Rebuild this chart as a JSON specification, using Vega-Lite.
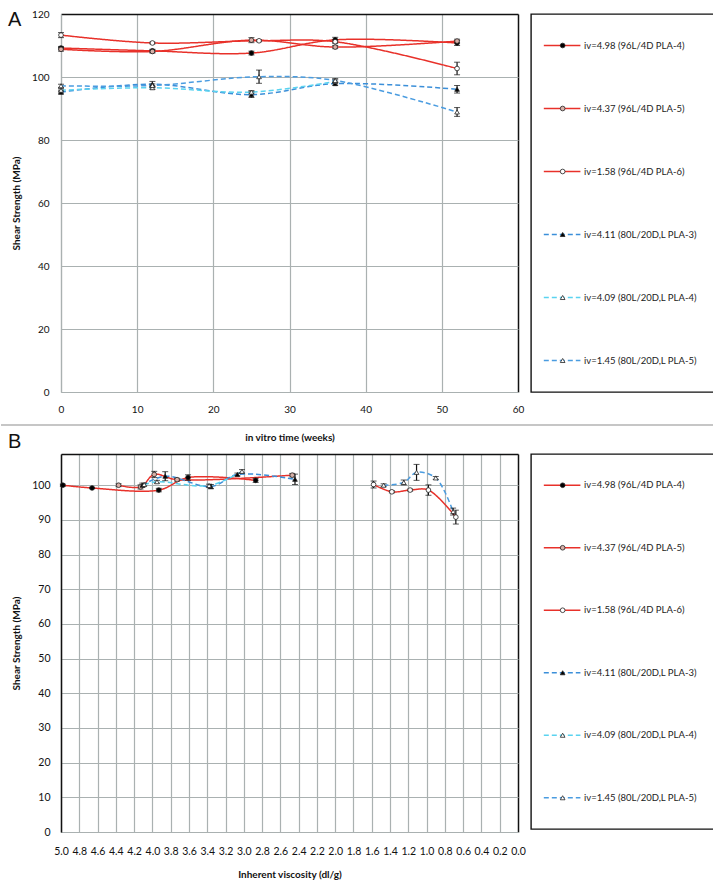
{
  "$schema": "https://vega.github.io/schema/vega-lite/v6.json",
  "autosize": {"type": "pad"},
  "padding": {"left": 0, "top": 9, "right": 0, "bottom": 0},
  "background": "white",
  "datasets": {
    "a": [
      {"k": "s1", "t": 0, "v": 109.2, "e": 0.5},
      {"k": "s1", "t": 12, "v": 108.3, "e": 0.5},
      {"k": "s1", "t": 25, "v": 107.6, "e": 0.6},
      {"k": "s1", "t": 36, "v": 111.8, "e": 0.8},
      {"k": "s1", "t": 52, "v": 110.8, "e": 0.8},
      {"k": "s2", "t": 0, "v": 108.8, "e": 0.6},
      {"k": "s2", "t": 12, "v": 108.1, "e": 0.5},
      {"k": "s2", "t": 25, "v": 111.7, "e": 0.8},
      {"k": "s2", "t": 36, "v": 109.5, "e": 0.5},
      {"k": "s2", "t": 52, "v": 111.4, "e": 0.6},
      {"k": "s3", "t": 0, "v": 113.3, "e": 0.8},
      {"k": "s3", "t": 12, "v": 110.8, "e": 0.3},
      {"k": "s3", "t": 26, "v": 111.5, "e": 0.3},
      {"k": "s3", "t": 36, "v": 111.2, "e": 0.6},
      {"k": "s3", "t": 52, "v": 102.7, "e": 2.0},
      {"k": "s4", "t": 0, "v": 95.2, "e": 0.6},
      {"k": "s4", "t": 12, "v": 97.7, "e": 0.9},
      {"k": "s4", "t": 25, "v": 94.4, "e": 0.9},
      {"k": "s4", "t": 36, "v": 97.9, "e": 0.5},
      {"k": "s4", "t": 52, "v": 96.1, "e": 1.2},
      {"k": "s5", "t": 0, "v": 95.8, "e": 0.5},
      {"k": "s5", "t": 12, "v": 96.6, "e": 0.5},
      {"k": "s5", "t": 25, "v": 95.2, "e": 0.5},
      {"k": "s5", "t": 36, "v": 98.6, "e": 0.5},
      {"k": "s6", "t": 0, "v": 97.2, "e": 0.5},
      {"k": "s6", "t": 12, "v": 97.3, "e": 0.5},
      {"k": "s6", "t": 26, "v": 100.1, "e": 2.1},
      {"k": "s6", "t": 36, "v": 98.9, "e": 0.6},
      {"k": "s6", "t": 52, "v": 88.9, "e": 1.4}
    ],
    "b": [
      {"k": "s1", "iv": 4.98, "v": 100.0, "e": 0.3},
      {"k": "s1", "iv": 4.66, "v": 99.2, "e": 0.2},
      {"k": "s1", "iv": 3.93, "v": 98.6, "e": 0.5},
      {"k": "s1", "iv": 3.61, "v": 102.2, "e": 0.8},
      {"k": "s1", "iv": 2.87, "v": 101.4, "e": 0.6},
      {"k": "s2", "iv": 4.37, "v": 100.0, "e": 0.4},
      {"k": "s2", "iv": 4.13, "v": 99.5, "e": 0.6},
      {"k": "s2", "iv": 3.98, "v": 103.1, "e": 0.9},
      {"k": "s2", "iv": 3.73, "v": 101.6, "e": 0.4},
      {"k": "s2", "iv": 2.47, "v": 102.9, "e": 0.5},
      {"k": "s3", "iv": 1.58, "v": 100.2, "e": 1.0},
      {"k": "s3", "iv": 1.38, "v": 98.1, "e": 0.3},
      {"k": "s3", "iv": 1.18, "v": 98.6, "e": 0.3},
      {"k": "s3", "iv": 0.98, "v": 98.6, "e": 1.5},
      {"k": "s3", "iv": 0.68, "v": 90.8, "e": 2.0},
      {"k": "s4", "iv": 4.11, "v": 100.0, "e": 0.6},
      {"k": "s4", "iv": 3.86, "v": 102.6, "e": 1.3},
      {"k": "s4", "iv": 3.36, "v": 99.6, "e": 0.6},
      {"k": "s4", "iv": 3.07, "v": 103.1, "e": 0.4},
      {"k": "s4", "iv": 2.44, "v": 101.7, "e": 1.5},
      {"k": "s5", "iv": 4.09, "v": 100.2, "e": 0.4},
      {"k": "s5", "iv": 3.95, "v": 101.0, "e": 0.4},
      {"k": "s5", "iv": 3.38, "v": 99.9, "e": 0.4},
      {"k": "s5", "iv": 3.02, "v": 104.0, "e": 0.5},
      {"k": "s6", "iv": 1.47, "v": 100.0, "e": 0.4},
      {"k": "s6", "iv": 1.25, "v": 100.8, "e": 0.7},
      {"k": "s6", "iv": 1.11, "v": 103.7, "e": 2.3},
      {"k": "s6", "iv": 0.9, "v": 102.1, "e": 0.4},
      {"k": "s6", "iv": 0.71, "v": 92.4, "e": 1.0}
    ],
    "leg": [
      {"k": "s1", "s": "iv=4.98 (96L/4D PLA-4)"},
      {"k": "s2", "s": "iv=4.37 (96L/4D PLA-5)"},
      {"k": "s3", "s": "iv=1.58 (96L/4D PLA-6)"},
      {"k": "s4", "s": "iv=4.11 (80L/20D,L PLA-3)"},
      {"k": "s5", "s": "iv=4.09 (80L/20D,L PLA-4)"},
      {"k": "s6", "s": "iv=1.45 (80L/20D,L PLA-5)"}
    ]
  },
  "concat": [
    {
      "width": 457,
      "height": 378,
      "title": {"text": "A", "anchor": "start", "frame": "group", "orient": "top", "offset": -21, "dx": -53, "font": "Liberation Sans", "fontSize": 20, "fontWeight": "normal", "color": "#111"},
      "layer": [
        {
          "data": {"name": "a"},
          "encoding": {
            "x": {"field": "t", "type": "quantitative", "scale": {"domain": [0, 60], "nice": false},
              "axis": {"title": "in vitro time (weeks)", "values": [0, 10, 20, 30, 40, 50, 60], "labelFlush": false, "labelPadding": 12, "titlePadding": 18,
                "gridColor": {"condition": {"test": "datum.value === 60", "value": "#111"}, "value": "#aab1b1"},
                "gridWidth": {"condition": {"test": "datum.value === 60", "value": 1.5}, "value": 1.2}}},
            "y": {"field": "v", "type": "quantitative", "scale": {"domain": [0, 120], "nice": false},
              "axis": {"title": "Shear Strength (MPa)", "values": [0, 20, 40, 60, 80, 100, 120], "labelPadding": 12, "titlePadding": 10,
                "gridColor": {"condition": {"test": "datum.value === 120", "value": "#111"}, "value": "#aab1b1"},
                "gridWidth": {"condition": {"test": "datum.value === 120", "value": 1.5}, "value": 1.2}}}
          },
          "layer": [
            {"mark": {"type": "line", "interpolate": "catmull-rom", "strokeWidth": 1.5},
              "encoding": {
                "color": {"field": "k", "type": "nominal", "legend": null, "scale": {"domain": ["s1", "s2", "s3", "s4", "s5", "s6"], "range": ["#e8312a", "#e8312a", "#e8312a", "#3b8fd9", "#5ad3f0", "#4a9ce0"]}},
                "strokeDash": {"field": "k", "type": "nominal", "legend": null, "scale": {"domain": ["s1", "s2", "s3", "s4", "s5", "s6"], "range": [[1, 0], [1, 0], [1, 0], [5, 3], [5, 3], [5, 3]]}}
              }},
            {"mark": {"type": "errorbar", "ticks": {"size": 6, "color": "#111"}, "rule": {"color": "#111", "strokeWidth": 1.2}, "color": "#111"},
              "encoding": {"yError": {"field": "e"}, "detail": {"field": "k"}}},
            {"mark": {"type": "point", "filled": true, "stroke": "#222", "strokeWidth": 0.8, "size": 22, "opacity": 1},
              "encoding": {
                "shape": {"field": "k", "type": "nominal", "legend": null, "scale": {"domain": ["s1", "s2", "s3", "s4", "s5", "s6"], "range": ["circle", "circle", "circle", "triangle-up", "triangle-up", "triangle-up"]}},
                "fill": {"field": "k", "type": "nominal", "legend": null, "scale": {"domain": ["s1", "s2", "s3", "s4", "s5", "s6"], "range": ["#000000", "#d6b0a8", "#ffffff", "#000000", "#ffffff", "#ffffff"]}}
              }}
          ]
        },
        {"data": {"values": [{"part": "separator"}]}, "mark": {"type": "rule", "color": "#b3b3b3", "strokeWidth": 1.5, "clip": false},
          "encoding": {
            "x": {"datum": -7.88, "type": "quantitative",
              "axis": {"title": "in vitro time (weeks)", "values": [0, 10, 20, 30, 40, 50, 60], "labelFlush": false, "labelPadding": 12, "titlePadding": 18,
                "gridColor": {"condition": {"test": "datum.value === 60", "value": "#111"}, "value": "#aab1b1"},
                "gridWidth": {"condition": {"test": "datum.value === 60", "value": 1.5}, "value": 1.2}}},
            "x2": {"datum": 85.7},
            "y": {"datum": -10.5, "type": "quantitative",
              "axis": {"title": "Shear Strength (MPa)", "values": [0, 20, 40, 60, 80, 100, 120], "labelPadding": 12, "titlePadding": 10,
                "gridColor": {"condition": {"test": "datum.value === 120", "value": "#111"}, "value": "#aab1b1"},
                "gridWidth": {"condition": {"test": "datum.value === 120", "value": 1.5}, "value": 1.2}}}
          }}
      ]
    },
    {
      "width": 183,
      "height": 378,
      "view": {"stroke": "#111", "strokeWidth": 1.4},
      "data": {"name": "leg"},
      "encoding": {"y": {"field": "k", "type": "nominal", "scale": {"type": "point", "padding": 0.5}, "axis": null}},
      "layer": [
        {"mark": {"type": "rule", "strokeWidth": 1.6},
          "encoding": {
            "x": {"datum": 0.07, "type": "quantitative", "scale": {"domain": [0, 1]}, "axis": null},
            "x2": {"datum": 0.27},
            "color": {"field": "k", "type": "nominal", "legend": null, "scale": {"domain": ["s1", "s2", "s3", "s4", "s5", "s6"], "range": ["#e8312a", "#e8312a", "#e8312a", "#3b8fd9", "#5ad3f0", "#4a9ce0"]}},
            "strokeDash": {"field": "k", "type": "nominal", "legend": null, "scale": {"domain": ["s1", "s2", "s3", "s4", "s5", "s6"], "range": [[1, 0], [1, 0], [1, 0], [5, 3], [5, 3], [5, 3]]}}
          }},
        {"mark": {"type": "point", "filled": true, "stroke": "#222", "strokeWidth": 0.8, "size": 22, "opacity": 1},
          "encoding": {
            "x": {"datum": 0.173},
            "shape": {"field": "k", "type": "nominal", "legend": null, "scale": {"domain": ["s1", "s2", "s3", "s4", "s5", "s6"], "range": ["circle", "circle", "circle", "triangle-up", "triangle-up", "triangle-up"]}},
            "fill": {"field": "k", "type": "nominal", "legend": null, "scale": {"domain": ["s1", "s2", "s3", "s4", "s5", "s6"], "range": ["#000000", "#d6b0a8", "#ffffff", "#000000", "#ffffff", "#ffffff"]}}
          }},
        {"mark": {"type": "text", "align": "left", "baseline": "middle", "font": "Lato", "fontSize": 9.5, "color": "#222"},
          "encoding": {"x": {"datum": 0.29}, "text": {"field": "s"}}}
      ]
    },
    {
      "width": 457,
      "height": 378,
      "title": {"text": "B", "anchor": "start", "frame": "group", "orient": "top", "offset": 2, "dx": -53, "font": "Liberation Sans", "fontSize": 20, "fontWeight": "normal", "color": "#111"},
      "data": {"name": "b"},
      "encoding": {
        "x": {"field": "iv", "type": "quantitative", "scale": {"domain": [0, 5], "reverse": true, "nice": false},
          "axis": {"title": "Inherent viscosity (dl/g)", "format": ".1f", "labelOverlap": false, "labelFlush": false, "labelFontSize": 10.5, "labelPadding": 14, "titlePadding": 13,
            "values": [0, 0.2, 0.4, 0.6, 0.8, 1.0, 1.2, 1.4, 1.6, 1.8, 2.0, 2.2, 2.4, 2.6, 2.8, 3.0, 3.2, 3.4, 3.6, 3.8, 4.0, 4.2, 4.4, 4.6, 4.8, 5.0],
            "gridColor": {"condition": {"test": "datum.value === 0", "value": "#111"}, "value": "#aab1b1"},
            "gridWidth": {"condition": {"test": "datum.value === 0", "value": 1.5}, "value": 1.2}}},
        "y": {"field": "v", "type": "quantitative", "scale": {"domain": [0, 109], "nice": false},
          "axis": {"title": "Shear Strength (MPa)", "values": [0, 10, 20, 30, 40, 50, 60, 70, 80, 90, 100, 109], "labelExpr": "datum.value > 105 ? '' : datum.label", "labelFontSize": 10.5, "labelPadding": 11, "titlePadding": 10, "domainColor": "#111", "domainWidth": 1.5,
            "gridColor": {"condition": {"test": "datum.value > 105", "value": "#111"}, "value": "#aab1b1"},
            "gridWidth": {"condition": {"test": "datum.value > 105", "value": 1.5}, "value": 1.2}}}
      },
      "layer": [
        {"mark": {"type": "line", "interpolate": "catmull-rom", "strokeWidth": 1.5},
          "encoding": {
            "color": {"field": "k", "type": "nominal", "legend": null, "scale": {"domain": ["s1", "s2", "s3", "s4", "s5", "s6"], "range": ["#e8312a", "#e8312a", "#e8312a", "#3b8fd9", "#5ad3f0", "#4a9ce0"]}},
            "strokeDash": {"field": "k", "type": "nominal", "legend": null, "scale": {"domain": ["s1", "s2", "s3", "s4", "s5", "s6"], "range": [[1, 0], [1, 0], [1, 0], [5, 3], [5, 3], [5, 3]]}}
          }},
        {"mark": {"type": "errorbar", "ticks": {"size": 6, "color": "#111"}, "rule": {"color": "#111", "strokeWidth": 1.2}, "color": "#111"},
          "encoding": {"yError": {"field": "e"}, "detail": {"field": "k"}}},
        {"mark": {"type": "point", "filled": true, "stroke": "#222", "strokeWidth": 0.8, "size": 22, "opacity": 1},
          "encoding": {
            "shape": {"field": "k", "type": "nominal", "legend": null, "scale": {"domain": ["s1", "s2", "s3", "s4", "s5", "s6"], "range": ["circle", "circle", "circle", "triangle-up", "triangle-up", "triangle-up"]}},
            "fill": {"field": "k", "type": "nominal", "legend": null, "scale": {"domain": ["s1", "s2", "s3", "s4", "s5", "s6"], "range": ["#000000", "#d6b0a8", "#ffffff", "#000000", "#ffffff", "#ffffff"]}}
          }}
      ]
    },
    {
      "width": 183,
      "height": 375,
      "view": {"stroke": "#111", "strokeWidth": 1.4},
      "data": {"name": "leg"},
      "encoding": {"y": {"field": "k", "type": "nominal", "scale": {"type": "point", "padding": 0.5}, "axis": null}},
      "layer": [
        {"mark": {"type": "rule", "strokeWidth": 1.6},
          "encoding": {
            "x": {"datum": 0.07, "type": "quantitative", "scale": {"domain": [0, 1]}, "axis": null},
            "x2": {"datum": 0.27},
            "color": {"field": "k", "type": "nominal", "legend": null, "scale": {"domain": ["s1", "s2", "s3", "s4", "s5", "s6"], "range": ["#e8312a", "#e8312a", "#e8312a", "#3b8fd9", "#5ad3f0", "#4a9ce0"]}},
            "strokeDash": {"field": "k", "type": "nominal", "legend": null, "scale": {"domain": ["s1", "s2", "s3", "s4", "s5", "s6"], "range": [[1, 0], [1, 0], [1, 0], [5, 3], [5, 3], [5, 3]]}}
          }},
        {"mark": {"type": "point", "filled": true, "stroke": "#222", "strokeWidth": 0.8, "size": 22, "opacity": 1},
          "encoding": {
            "x": {"datum": 0.173},
            "shape": {"field": "k", "type": "nominal", "legend": null, "scale": {"domain": ["s1", "s2", "s3", "s4", "s5", "s6"], "range": ["circle", "circle", "circle", "triangle-up", "triangle-up", "triangle-up"]}},
            "fill": {"field": "k", "type": "nominal", "legend": null, "scale": {"domain": ["s1", "s2", "s3", "s4", "s5", "s6"], "range": ["#000000", "#d6b0a8", "#ffffff", "#000000", "#ffffff", "#ffffff"]}}
          }},
        {"mark": {"type": "text", "align": "left", "baseline": "middle", "font": "Lato", "fontSize": 9.5, "color": "#222"},
          "encoding": {"x": {"datum": 0.29}, "text": {"field": "s"}}}
      ]
    }
  ],
  "columns": 2,
  "spacing": {"row": 62, "column": 13},
  "bounds": "flush",
  "config": {
    "font": "Lato",
    "view": {"stroke": null},
    "axis": {"labelFont": "Lato", "labelFontSize": 10, "labelColor": "#111", "titleFont": "Lato", "titleFontSize": 10, "titleFontWeight": "bold", "titleColor": "#111", "tickSize": 0, "ticks": false, "domainColor": "#aab1b1", "domainWidth": 1.2, "grid": true}
  }
}
